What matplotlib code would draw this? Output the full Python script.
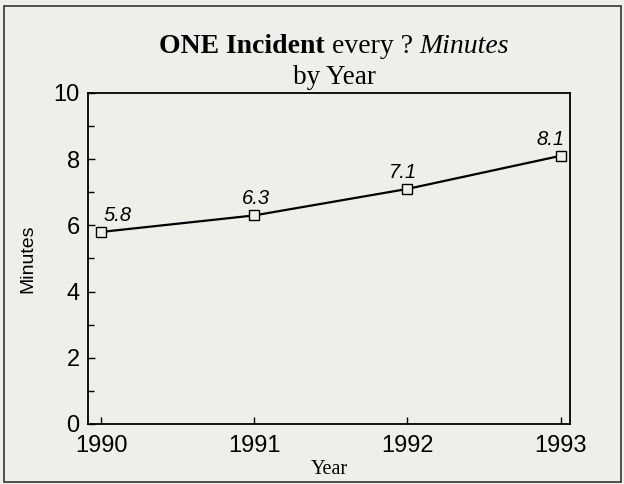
import matplotlib
matplotlib.use("Agg")
import matplotlib.pyplot as plt
from matplotlib.patches import Rectangle
from matplotlib.ticker import MultipleLocator

years = [1990, 1991, 1992, 1993]
minutes = [5.8, 6.3, 7.1, 8.1]
labels = ["5.8", "6.3", "7.1", "8.1"]
label_offsets = [(12, 5), (1, 5), (-3, 5), (-7, 5)]

bg = "#efeeea"
fig = plt.figure(figsize=(6.24, 4.84), dpi=100, facecolor=bg)
ax = fig.add_axes([0.141, 0.124, 0.772, 0.684], facecolor=bg)

ax.plot(years, minutes, color="black", lw=1.6, marker="s", ms=7,
        mfc=bg, mec="black", mew=1.0)
for x, y, t, (dx, dy) in zip(years, minutes, labels, label_offsets):
    ax.annotate(t, (x, y), xytext=(dx, dy), textcoords="offset points",
                ha="center", va="bottom", fontsize=14.5, style="italic",
                family="Liberation Sans")

ax.set_xlim(1989.915, 1993.06)
ax.set_ylim(0, 10)
ax.set_xticks(years)
ax.yaxis.set_major_locator(MultipleLocator(2))
ax.yaxis.set_minor_locator(MultipleLocator(1))
ax.tick_params(axis="both", which="both", direction="in", top=False, right=False)
ax.tick_params(which="major", length=5, width=1, labelsize=17)
ax.tick_params(which="minor", length=4, width=1)
ax.tick_params(axis="x", pad=8)
ax.tick_params(axis="y", pad=6)
for lab in ax.get_xticklabels() + ax.get_yticklabels():
    lab.set_family("Liberation Sans")
for s in ax.spines.values():
    s.set_linewidth(1.3)

ax.set_xlabel("Year", family="Liberation Serif", fontsize=14.5, labelpad=2)
ax.set_ylabel("Minutes", family="Liberation Sans", fontsize=14, labelpad=12)

# frame around the whole figure
fig.patches.append(Rectangle((3.5/624, 2.5/484), 617/624, 476/484, transform=fig.transFigure,
                             fill=False, edgecolor="#333333", lw=1.2))

# title line 1 with mixed styles
fig.canvas.draw()
r = fig.canvas.get_renderer()
parts = [("ONE Incident ", "bold", "normal"), ("every ? ", "normal", "normal"),
         ("Minutes", "normal", "italic")]
texts = []
for s, w, st in parts:
    t = fig.text(0, 0, s, family="Liberation Serif", fontsize=20, weight=w, style=st,
                 ha="left", va="baseline")
    texts.append(t)
widths = [t.get_window_extent(r).width for t in texts]
total = sum(widths)
cx = 334
x0 = cx - total / 2
y1 = 484 - 53
for t, w in zip(texts, widths):
    t.set_position((x0 / 624, y1 / 484))
    x0 += w
fig.text(cx / 624, (484 - 84) / 484, "by Year", family="Liberation Serif", fontsize=19.5,
         ha="center", va="baseline")

fig.savefig("out.png", dpi=100, facecolor=bg)
